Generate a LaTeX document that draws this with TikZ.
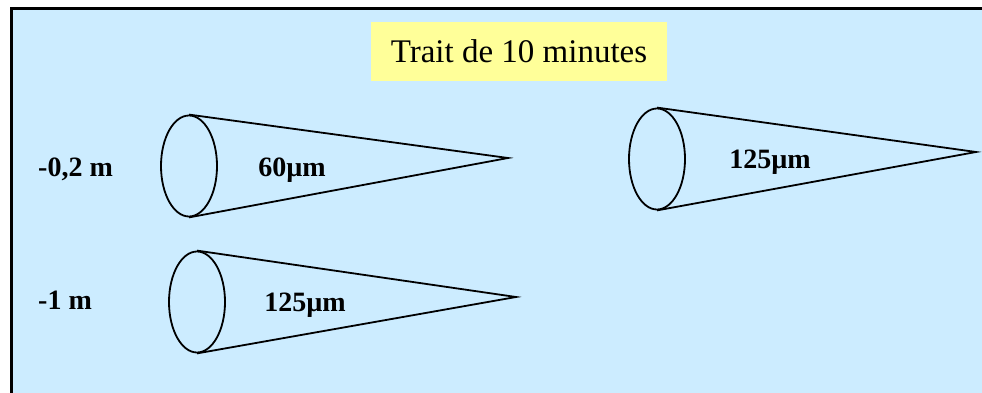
\documentclass[tikz,border=0pt]{standalone}
\usepackage{fontspec}
\setmainfont{Liberation Serif}
\usetikzlibrary{shapes.geometric}
\definecolor{skyfill}{RGB}{204,236,255}
\definecolor{titlefill}{RGB}{255,255,153}
\tikzset{
  conebase/.style={draw=black, line width=1.8pt, ellipse, minimum width=56pt, minimum height=101pt, inner sep=0pt},
  coneside/.style={draw=black, line width=1.8pt, line join=miter},
  lbl/.style={font=\fontsize{28}{30}\selectfont\bfseries, inner sep=0pt},
  titlebox/.style={fill=titlefill, minimum width=296pt, minimum height=59pt, inner sep=0pt, font=\fontsize{33}{36}\selectfont}
}
\begin{document}
\begin{tikzpicture}[x=1pt,y=-1pt]
\useasboundingbox (0,0) rectangle (982,393);
\clip (0,0) rectangle (982,393);
\fill[white] (0,0) rectangle (982,393);
\draw[fill=skyfill, line width=2.2pt] (11.5,8.5) rectangle (1000,410);

\node[titlebox] (title) at (519,51.5) {Trait de 10 minutes};

% cone 1
\node[conebase] (e1) at (189,166) {};
\coordinate (a1) at (508,158);
\draw[coneside] (e1.north) -- (a1) -- (e1.south);
\node[lbl] (t1) at (292,170) {60µm};

% cone 2
\node[conebase] (e2) at (657,159) {};
\coordinate (a2) at (976,152);
\draw[coneside] (e2.north) -- (a2) -- (e2.south);
\node[lbl] (t2) at (770,162) {125µm};

% cone 3
\node[conebase] (e3) at (197,302) {};
\coordinate (a3) at (516,297);
\draw[coneside] (e3.north) -- (a3) -- (e3.south);
\node[lbl] (t3) at (305,305) {125µm};

\node[lbl, anchor=west] (d1) at (38,169) {-0,2 m};
\node[lbl, anchor=west] (d2) at (38,300) {-1 m};
\end{tikzpicture}
\end{document}
